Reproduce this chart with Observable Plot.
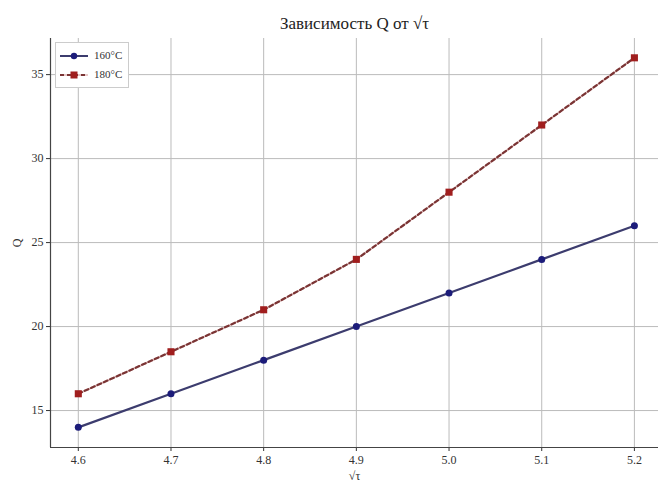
<!DOCTYPE html>
<html>
<head>
<meta charset="utf-8">
<script src="https://cdn.jsdelivr.net/npm/d3@7"></script>
<script src="https://cdn.jsdelivr.net/npm/@observablehq/plot@0.6"></script>
<style>
  body { margin: 0; background: #fff; }
  #wrap { position: relative; width: 660px; height: 484px; }
  #legend { position: absolute; left: 55px; top: 42px; border: 1px solid #ccc; background: #fff;
    font-family: "Liberation Serif", serif; font-size: 11px; color: #333; padding: 3px 6px 3px 4px; line-height: 19px; }
  #legend div { display: flex; align-items: center; }
  #legend svg { margin-right: 6px; }
</style>
</head>
<body>
<div id="wrap"></div>
<script>
const sqrtTau = [4.6, 4.7, 4.8, 4.9, 5.0, 5.1, 5.2];
const q160 = [14, 16, 18, 20, 22, 24, 26];
const q180 = [16, 18.5, 21, 24, 28, 32, 36];
const seriesNames = ["160°C", "180°C"];
const xTicks = [4.6, 4.7, 4.8, 4.9, 5.0, 5.1, 5.2];
const yTicks = [15, 20, 25, 30, 35];

const d160 = sqrtTau.map((x, i) => ({x, y: q160[i]}));
const d180 = sqrtTau.map((x, i) => ({x, y: q180[i]}));
const xDomain = [4.57, 5.226];
const yDomain = [12.8, 37.15];
const font = "Liberation Serif, Times New Roman, serif";

const chart = Plot.plot({
  width: 660,
  height: 484,
  marginLeft: 50,
  marginRight: 2,
  marginTop: 38,
  marginBottom: 37,
  style: { fontFamily: font, fontSize: "12px", color: "#333", background: "#fff" },
  x: { domain: xDomain },
  y: { domain: yDomain },
  marks: [
    Plot.gridX(xTicks, { stroke: "#bbb", strokeOpacity: 1, strokeWidth: 1 }),
    Plot.gridY(yTicks, { stroke: "#bbb", strokeOpacity: 1, strokeWidth: 1 }),
    Plot.axisX(xTicks, { tickFormat: d3.format(".1f"), tickSize: 4, tickPadding: 4, label: "√τ", labelAnchor: "center", labelArrow: "none", labelOffset: 32, fontSize: 12 }),
    Plot.axisY(yTicks, { tickSize: 4, tickPadding: 3, label: "Q", labelAnchor: "center", labelArrow: "none", labelOffset: 38, fontSize: 12 }),
    Plot.ruleX([xDomain[0]], { stroke: "#444", strokeWidth: 1.2 }),
    Plot.ruleY([yDomain[0]], { stroke: "#444", strokeWidth: 1.2 }),
    Plot.line(d160, { x: "x", y: "y", stroke: "#3c3c6e", strokeWidth: 2.2 }),
    Plot.dot(d160, { x: "x", y: "y", r: 3.5, fill: "#1c1c7a", stroke: "none" }),
    Plot.line(d180, { x: "x", y: "y", stroke: "#e8c8c8", strokeWidth: 2 }),
    Plot.line(d180, { x: "x", y: "y", stroke: "#7a3434", strokeWidth: 2.2, strokeDasharray: "4,3" }),
    Plot.dot(d180, { x: "x", y: "y", r: 4, symbol: "square", fill: "#a01e1e", stroke: "none" }),
    Plot.text(["Зависимость Q от √τ"], { frameAnchor: "top", dy: -22, fontSize: 17, fill: "#222", fontFamily: font })
  ]
});
const wrap = document.getElementById("wrap");
wrap.appendChild(chart);

const legend = document.createElement("div");
legend.id = "legend";
legend.innerHTML = `
<div><svg width="28" height="10"><line x1="0" y1="5" x2="28" y2="5" stroke="#3c3c6e" stroke-width="2"/><circle cx="14" cy="5" r="3.2" fill="#1c1c7a"/></svg>${seriesNames[0]}</div>
<div><svg width="28" height="10"><line x1="0" y1="5" x2="28" y2="5" stroke="#e8c8c8" stroke-width="2"/><line x1="0" y1="5" x2="28" y2="5" stroke="#7a3434" stroke-width="2" stroke-dasharray="4,3"/><rect x="10.5" y="1.5" width="7" height="7" fill="#a01e1e"/></svg>${seriesNames[1]}</div>`;
wrap.appendChild(legend);
</script>
</body>
</html>
